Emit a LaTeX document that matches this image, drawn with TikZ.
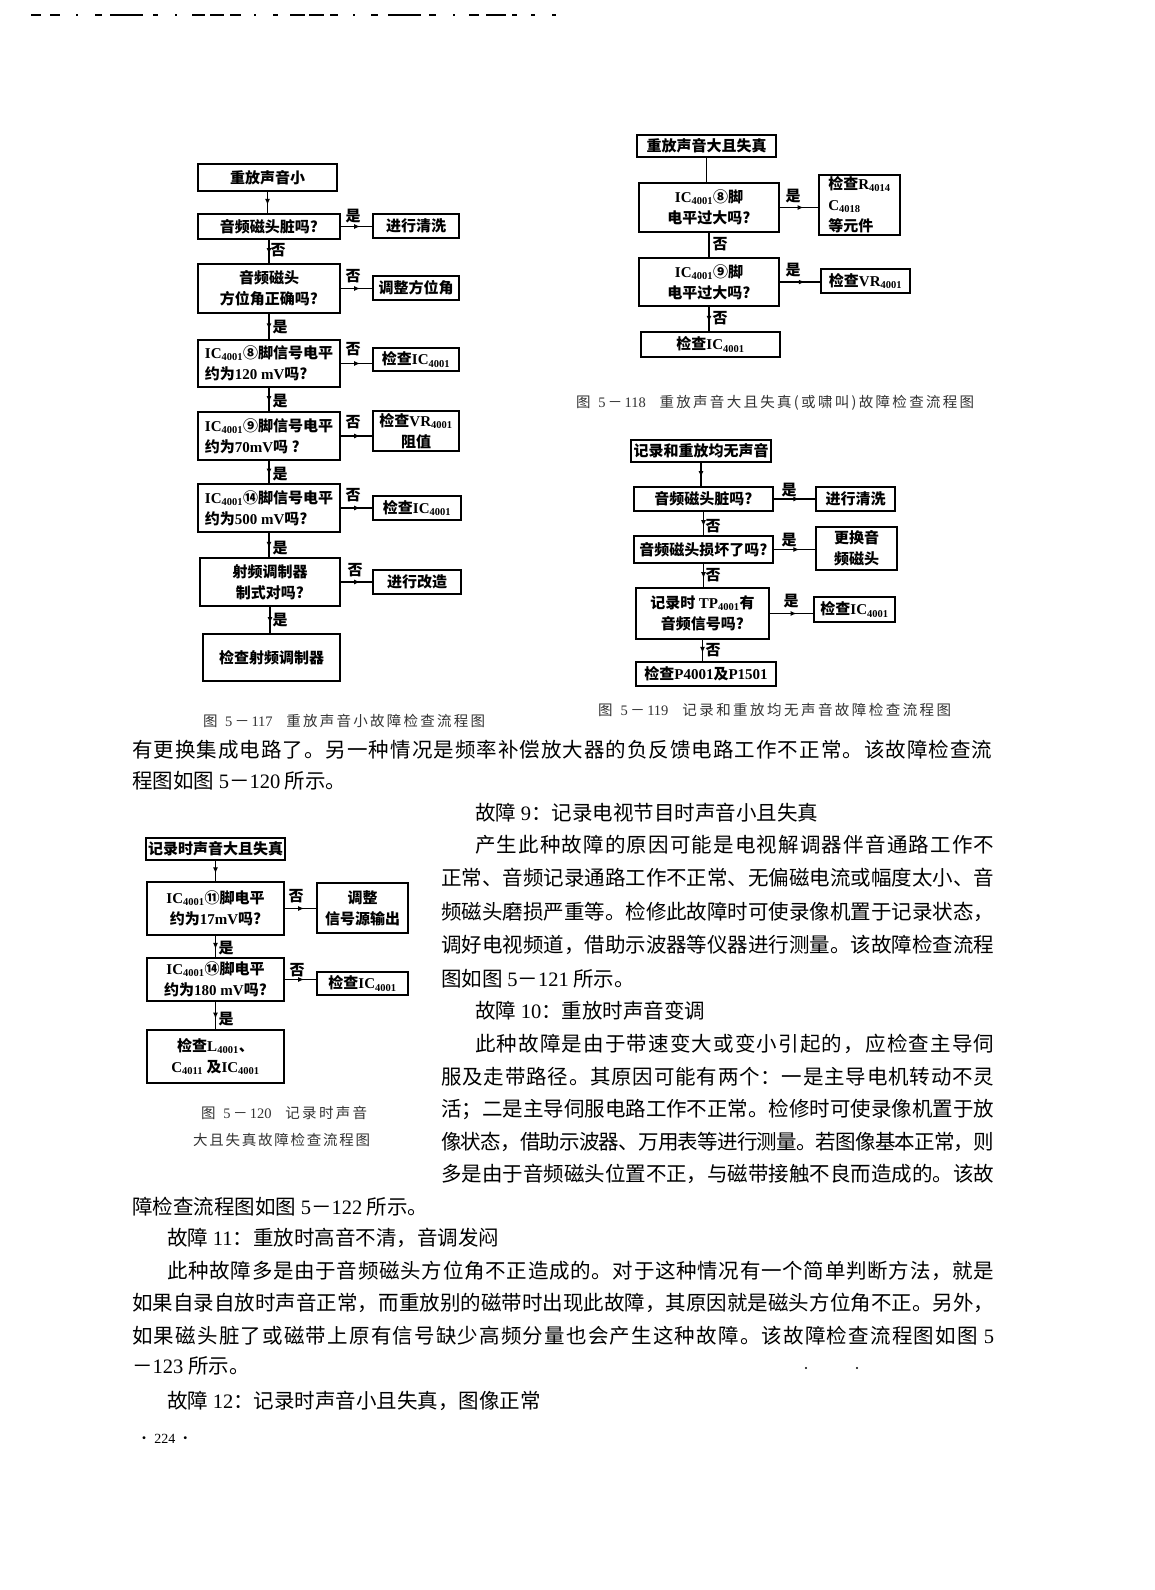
\documentclass[tikz,border=0pt]{standalone}
\usepackage{fontspec}
\setmainfont{Noto Sans CJK SC}
\newfontfamily\lat{Liberation Serif}
\usetikzlibrary{arrows.meta,decorations.markings}
\newcommand\la[1]{{\lat #1}}
\newcommand\sbs[1]{\textsubscript{\lat #1}}
\newcommand\ICx{\la{IC}\sbs{4001}}
\makeatletter
\newcommand\spreadto[2]{\hbox to #1pt{\@tfor\sp@item:=#2\do{\sp@item\hskip 0pt plus 1fil minus 1pt}\unskip}}
\makeatother
\tikzset{
  bx/.style={draw,line width=2.4pt,inner sep=2pt,align=center,
    font={\fontsize{15}{21}\selectfont\bfseries}},
  lbl/.style={inner sep=0pt,font={\fontsize{15}{15}\selectfont\bfseries}},
  ln/.style={line width=1.8pt},
  arr/.style={ln,postaction={decorate},decoration={markings,
    mark=at position 0.62 with {\arrow{Latex[length=6pt,width=5pt]}}}},
  bodytxt/.style={inner sep=0pt,anchor=base west,font={\fontsize{20.5}{24}\selectfont}},
  captxt/.style={inner sep=0pt,anchor=base west,text=black!80,font={\fontsize{14.5}{17}\selectfont}},
}
\newcommand\BX[7][]{\node[bx,#1,minimum width={#5-#3},minimum height={#6-#4}] (#2) at ({(#3+#5)/2},{(#4+#6)/2}) {#7};}
\newcommand\LB[4]{\node[lbl] (#1) at (#2,#3) {#4};}
\newcommand\JL[5]{\node[bodytxt] (#1) at (#2,#3) {\spreadto{#4}{#5}};}
\newcommand\NL[4]{\node[bodytxt] (#1) at (#2,#3) {#4};}
\newcommand\CP[5]{\node[captxt] (#1) at (#2,#3) {\spreadto{#4}{#5}};}
\begin{document}
\begin{tikzpicture}[x=1pt,y=-1pt]
\fill[white] (0,0) rectangle (1154,1590);
\useasboundingbox (0,0) rectangle (1154,1590);
% scan artefact line at top
\foreach \a/\b in {31/41,50/60,76/78,95/102,110/143,153/158,175/177,192/205,210/224,230/241,254/256,273/278,290/305,309/324,330/338,353/355,371/378,388/421,429/436,453/455,469/479,486/506,512/517,531/535,552/556}
  \draw[line width=1.4pt] (\a,15) -- (\b,15);

% ---------------- Fig 5-117 ----------------
\BX{b1}{198}{164}{337}{191}{重放声音小}
\BX{b2}{198}{214}{340}{239}{音频磁头脏吗?}
\BX{r2}{373}{214}{459}{238}{进行清洗}
\BX{b3}{198}{264}{340}{313}{音频磁头\\方位角正确吗?}
\BX{r3}{373}{276}{459}{300}{调整方位角}
\BX[align=left]{b4}{198}{340}{340}{387}{\ICx⑧脚信号电平\\约为\la{120 mV}吗?}
\BX{r4}{373}{348}{459}{371}{检查\ICx}
\BX[align=left]{b5}{198}{412}{340}{460}{\ICx⑨脚信号电平\\约为\la{70mV}吗 ?}
\BX{r5}{373}{414}{459}{448}{检查\la{VR}\sbs{4001}\\阻值}
\BX[align=left]{b6}{198}{484}{340}{532}{\ICx⑭脚信号电平\\约为\la{500 mV}吗?}
\BX{r6}{373}{496}{461}{520}{检查\ICx}
\BX{b7}{200}{558}{340}{606}{射频调制器\\制式对吗?}
\BX{r7}{373}{570}{461}{594}{进行改造}
\BX{b8}{203}{634}{340}{681}{检查射频调制器}
\draw[arr] (b1.south) -- (b1.south |- b2.north);
\draw[arr] (b2.east) -- (b2.east -| r2.west);
\draw[arr] (b2.south) -- (b2.south |- b3.north);
\draw[arr] (b3.east) -- (b3.east -| r3.west);
\draw[arr] (b3.south) -- (b3.south |- b4.north);
\draw[arr] (b4.east) -- (b4.east -| r4.west);
\draw[arr] (b4.south) -- (b4.south |- b5.north);
\draw[arr] (b5.east) -- (b5.east -| r5.west);
\draw[arr] (b5.south) -- (b5.south |- b6.north);
\draw[arr] (b6.east) -- (b6.east -| r6.west);
\draw[arr] (b6.south) -- (b6.south |- b7.north);
\draw[arr] (b7.east) -- (b7.east -| r7.west);
\draw[arr] (b7.south) -- (b7.south |- b8.north);
\LB{la1}{353}{216}{是}
\LB{la2}{278}{250}{否}
\LB{la3}{353}{276}{否}
\LB{la4}{280}{327}{是}
\LB{la5}{353}{349}{否}
\LB{la6}{280}{401}{是}
\LB{la7}{353}{422}{否}
\LB{la8}{280}{474}{是}
\LB{la9}{353}{495}{否}
\LB{la10}{280}{548}{是}
\LB{la11}{355}{570}{否}
\LB{la12}{280}{620}{是}
\CP{cap1}{203}{726.5}{282}{图{\hspace{3pt}}{\la{5}}－{\la{117}}{\hspace{9pt}}重放声音小故障检查流程图}

% ---------------- Fig 5-118 ----------------
\BX{c1}{637}{135}{776}{157}{重放声音大且失真}
\BX{c2}{639}{183}{779}{232}{\ICx⑧脚\\电平过大吗?}
\BX[align=left]{s2}{819}{181}{900}{229}{检查\la{R}\sbs{4014}\\\la{C}\sbs{4018}\\等元件}
\BX{c3}{639}{258}{779}{306}{\ICx⑨脚\\电平过大吗?}
\BX{s3}{821}{269}{910}{293}{检查\la{VR}\sbs{4001}}
\BX{c4}{641}{332}{780}{357}{检查\ICx}
\draw[ln] (c1.south) -- (c1.south |- c2.north);
\draw[arr] (c2.east) -- (c2.east -| s2.west);
\draw[ln] (c2.south) -- (c2.south |- c3.north);
\draw[arr] (c3.east) -- (c3.east -| s3.west);
\draw[arr] (c3.south) -- (c3.south |- c4.north);
\LB{lc1}{793}{196}{是}
\LB{lc2}{720}{244}{否}
\LB{lc3}{793}{270}{是}
\LB{lc4}{720}{318}{否}
\CP{cap2}{576}{407.5}{398}{图{\hspace{3pt}}{\la{5}}－{\la{118}}{\hspace{9pt}}重放声音大且失真(或啸叫)故障检查流程图}

% ---------------- Fig 5-119 ----------------
\BX{d1}{631}{440}{771}{462}{记录和重放均无声音}
\BX{d2}{634}{487}{773}{511}{音频磁头脏吗?}
\BX{t2}{816}{487}{895}{511}{进行清洗}
\BX{d3}{634}{536}{773}{563}{音频磁头损坏了吗?}
\BX{t3}{816}{527}{897}{570}{更换音\\频磁头}
\BX{d4}{636}{588}{769}{639}{记录时 \la{TP}\sbs{4001}有\\音频信号吗?}
\BX{t4}{814}{597}{895}{622}{检查\ICx}
\BX{d5}{636}{662}{776}{686}{检查\la{P4001}及\la{P1501}}
\draw[arr] (d1.south) -- (d1.south |- d2.north);
\draw[arr] (d2.east) -- (d2.east -| t2.west);
\draw[arr] (d2.south) -- (d2.south |- d3.north);
\draw[arr] (d3.east) -- (d3.east -| t3.west);
\draw[arr] (d3.south) -- (d3.south |- d4.north);
\draw[arr] (d4.east) -- (d4.east -| t4.west);
\draw[arr] (d4.south) -- (d4.south |- d5.north);
\LB{ld1}{789}{490}{是}
\LB{ld2}{713}{526}{否}
\LB{ld3}{789}{540}{是}
\LB{ld4}{713}{575}{否}
\LB{ld5}{791}{601}{是}
\LB{ld6}{713}{650}{否}
\CP{cap3}{598}{715.5}{353}{图{\hspace{3pt}}{\la{5}}－{\la{119}}{\hspace{9pt}}记录和重放均无声音故障检查流程图}

% ---------------- Fig 5-120 ----------------
\BX{e1}{147}{838}{284}{860}{记录时声音大且失真}
\BX{e2}{147}{882}{284}{935}{\ICx⑪脚电平\\约为\la{17mV}吗?}
\BX{u2}{317}{883}{408}{933}{调整\\信号源输出}
\BX{e3}{147}{958}{284}{1001}{\ICx⑭脚电平\\约为\la{180 mV}吗?}
\BX{u3}{317}{972}{408}{995}{检查\ICx}
\BX{e4}{147}{1030}{284}{1083}{检查\la{L}\sbs{4001}、\\\la{C}\sbs{4011} 及\ICx}
\draw[arr] (e1.south) -- (e1.south |- e2.north);
\draw[arr] (e2.east) -- (e2.east -| u2.west);
\draw[arr] (e2.south) -- (e2.south |- e3.north);
\draw[arr] (e3.east) -- (e3.east -| u3.west);
\draw[arr] (e3.south) -- (e3.south |- e4.north);
\LB{le1}{296}{896}{否}
\LB{le2}{226}{948}{是}
\LB{le3}{297}{970}{否}
\LB{le4}{226}{1019}{是}
\CP{cap4}{201}{1118.5}{166}{图{\hspace{3pt}}{\la{5}}－{\la{120}}{\hspace{9pt}}记录时声音}
\CP{cap5}{193}{1145.5}{177}{大且失真故障检查流程图}

% ---------------- body text ----------------
\JL{p1}{132}{757.5}{860}{有更换集成电路了。另一种情况是频率补偿放大器的负反馈电路工作不正常。该故障检查流}
\NL{p2}{132}{788.5}{程图如图 \la{5}－\la{120} 所示。}
\NL{q1}{475}{820.5}{故障 \la{9}：记录电视节目时声音小且失真}
\JL{q2}{475}{852.5}{519}{产生此种故障的原因可能是电视解调器伴音通路工作不}
\JL{q3}{441}{885.5}{553}{正常、音频记录通路工作不正常、无偏磁电流或幅度太小、音}
\JL{q4}{441}{919.5}{553}{频磁头磨损严重等。检修此故障时可使录像机置于记录状态，}
\JL{q5}{441}{952.5}{553}{调好电视频道，借助示波器等仪器进行测量。该故障检查流程}
\NL{q6}{441}{986.5}{图如图 \la{5}－\la{121} 所示。}
\NL{q7}{475}{1018.5}{故障 \la{10}：重放时声音变调}
\JL{q8}{475}{1051.5}{519}{此种故障是由于带速变大或变小引起的，应检查主导伺}
\JL{q9}{441}{1084.5}{553}{服及走带路径。其原因可能有两个：一是主导电机转动不灵}
\JL{q10}{441}{1116.5}{553}{活；二是主导伺服电路工作不正常。检修时可使录像机置于放}
\JL{q11}{441}{1149.5}{553}{像状态，借助示波器、万用表等进行测量。若图像基本正常，则}
\JL{q12}{441}{1181.5}{553}{多是由于音频磁头位置不正，与磁带接触不良而造成的。该故}
\NL{p3}{132}{1214.5}{障检查流程图如图 \la{5}－\la{122} 所示。}
\NL{p4}{167}{1245.5}{故障 \la{11}：重放时高音不清，音调发闷}
\JL{p5}{167}{1278.5}{827}{此种故障多是由于音频磁头方位角不正造成的。对于这种情况有一个简单判断方法，就是}
\JL{p6}{132}{1310.5}{862}{如果自录自放时声音正常，而重放别的磁带时出现此故障，其原因就是磁头方位角不正。另外，}
\JL{p7}{132}{1343.5}{862}{如果磁头脏了或磁带上原有信号缺少高频分量也会产生这种故障。该故障检查流程图如图{\hspace{5pt}\la{5}}}
\NL{p8}{132}{1373.5}{－\la{123} 所示。}
\NL{p9}{167}{1408.5}{故障 \la{12}：记录时声音小且失真，图像正常}
\node[inner sep=0pt,anchor=base west,font={\fontsize{14}{14}\selectfont}] (pg) at (137,1443) {· \la{224} ·};
\fill (806,1368) circle (1.2);
\fill (857,1368) circle (1.2);
\end{tikzpicture}
\end{document}
